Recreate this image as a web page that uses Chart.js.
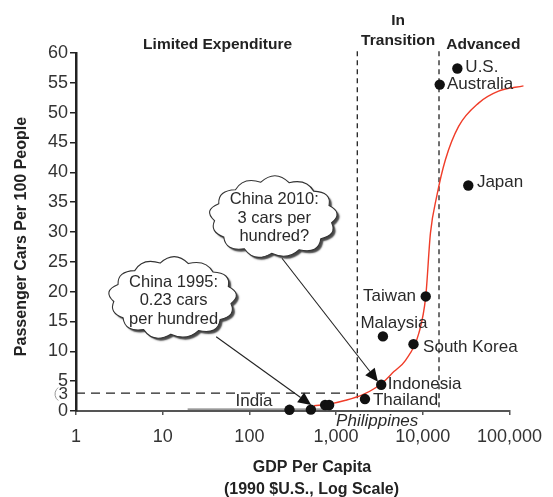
<!DOCTYPE html>
<html>
<head>
<meta charset="utf-8">
<script src="https://cdn.jsdelivr.net/npm/chart.js@4/dist/chart.umd.min.js"></script>
<style>
  html, body { margin: 0; padding: 0; background: #fff; }
  #wrap { width: 553px; height: 497px; position: relative; }
</style>
</head>
<body>
<div id="wrap"><canvas id="c" width="553" height="497"></canvas></div>
<script>
// ---- DATA ----
const countries   = ['India', 'China 1995', '', 'Philippines', 'Thailand', 'Indonesia', 'Malaysia', 'South Korea', 'Taiwan', 'Australia', 'U.S.', 'Japan'];
const gdpPerCapita = [290, 512, 748, 831, 2154, 3317, 3470, 7816, 10820, 15680, 25060, 33500];
const carsPer100   = [0.2, 0.23, 1.0, 1.0, 2.0, 4.4, 12.5, 11.2, 19.2, 54.7, 57.4, 37.8];

const curveGdp  = [558, 831, 1292, 2005, 2860, 3726, 4645, 6325, 8995, 10820, 12260, 14500, 18240, 25900, 44000, 74800, 145000];
const curveCars = [0.87, 1.16, 1.8, 2.7, 3.9, 5.2, 6.6, 8.5, 13, 19.2, 29.8, 36, 42.1, 47.7, 51.6, 53.6, 54.5];

const xTickValues = [1, 10, 100, 1000, 10000, 100000];
const xTickLabels = ['1', '10', '100', '1,000', '10,000', '100,000'];
const yTickValues = [0, 5, 10, 15, 20, 25, 30, 35, 40, 45, 50, 55, 60];

const zoneBoundaries = [1757, 15390];     // GDP per capita
const chinaTarget = 3;                   // cars per hundred (dashed line)
const zoneTitles = [
  { lines: ['Limited Expenditure'], gdp: 43 },
  { lines: ['In', 'Transition'], gdp: 5200 },
  { lines: ['Advanced'], gdp: 50000 }
];
const callouts = [
  { lines: ['China 1995:', '0.23 cars', 'per hundred'], gdp: 13.0, cars: 18.9, fromGdp: 41.4, fromCars: 12.45, toGdp: 516, toCars: 1.0, textDy: 2.5 },
  { lines: ['China 2010:', '3 cars per', 'hundred?'], gdp: 188.7, cars: 32.45, fromGdp: 237.6, fromCars: 25.6, toGdp: 3040, toCars: 4.9, textDy: 1 }
];
const indiaLeader = { fromGdp: 19.4, toGdp: 800, cars: 0.3 };

// ---- STYLE (label offsets in px) ----
const labelStyle = {
  'India':       { dx: -17, dy: -8, align: 'right' },
  'Philippines': { dx: 7, dy: 16.5, align: 'left', italic: true },
  'Thailand':    { dx: 8, dy: 1, align: 'left' },
  'Indonesia':   { dx: 6.5, dy: 0, align: 'left' },
  'Malaysia':    { dx: 11, dy: -13.6, align: 'center' },
  'South Korea': { dx: 9.6, dy: 3.4, align: 'left' },
  'Taiwan':      { dx: -9.7, dy: -0.6, align: 'right' },
  'Australia':   { dx: 7.3, dy: 0, align: 'left' },
  'U.S.':        { dx: 8, dy: -1, align: 'left' },
  'Japan':       { dx: 8.6, dy: -3, align: 'left' }
};

const FONT = '"Liberation Sans", Arial, sans-serif';

function cloudPath(ctx, cx, cy, rx, ry, n, b) {
  ctx.beginPath();
  const pts = [];
  for (let i = 0; i <= n; i++) {
    const a = i / n * Math.PI * 2 + 0.15;
    pts.push([cx + rx * Math.cos(a), cy + ry * Math.sin(a), a]);
  }
  ctx.moveTo(pts[0][0], pts[0][1]);
  for (let i = 0; i < n; i++) {
    const am = (pts[i][2] + pts[i + 1][2]) / 2;
    const bb = b * (1 + 0.2 * Math.sin(i * 2.3));
    const kx = cx + (rx + 2 * bb) * Math.cos(am);
    const ky = cy + (ry + 2 * bb) * Math.sin(am);
    ctx.quadraticCurveTo(kx, ky, pts[i + 1][0], pts[i + 1][1]);
  }
  ctx.closePath();
}

function arrow(ctx, x1, y1, x2, y2) {
  ctx.beginPath();
  ctx.moveTo(x1, y1);
  const ang = Math.atan2(y2 - y1, x2 - x1);
  const L = 13, W = 6;
  const bx = x2 - L * Math.cos(ang), by = y2 - L * Math.sin(ang);
  ctx.lineTo(bx, by);
  ctx.strokeStyle = '#222';
  ctx.lineWidth = 1.1;
  ctx.stroke();
  ctx.beginPath();
  ctx.moveTo(x2, y2);
  ctx.lineTo(bx + W * Math.sin(ang), by - W * Math.cos(ang));
  ctx.lineTo(bx - W * Math.sin(ang), by + W * Math.cos(ang));
  ctx.closePath();
  ctx.fillStyle = '#111';
  ctx.fill();
}

const decor = {
  id: 'decor',
  beforeDatasetsDraw(chart) {
    const { ctx, scales: { x, y } } = chart;
    ctx.save();
    ctx.strokeStyle = '#222';
    ctx.lineWidth = 1.3;
    ctx.setLineDash([5, 4]);
    zoneBoundaries.forEach(g => {
      const px = x.getPixelForValue(g);
      ctx.beginPath();
      ctx.moveTo(px, y.getPixelForValue(60.3));
      ctx.lineTo(px, y.getPixelForValue(0));
      ctx.stroke();
    });
    ctx.setLineDash([9, 6]);
    ctx.beginPath();
    ctx.moveTo(x.getPixelForValue(1), y.getPixelForValue(chinaTarget));
    ctx.lineTo(x.getPixelForValue(zoneBoundaries[0]), y.getPixelForValue(chinaTarget));
    ctx.stroke();
    ctx.setLineDash([]);
    // India leader line
    ctx.strokeStyle = '#777';
    ctx.lineWidth = 1.3;
    ctx.beginPath();
    ctx.moveTo(x.getPixelForValue(indiaLeader.fromGdp), y.getPixelForValue(indiaLeader.cars));
    ctx.lineTo(x.getPixelForValue(indiaLeader.toGdp), y.getPixelForValue(indiaLeader.cars));
    ctx.stroke();
    // "3" label on y axis
    ctx.fillStyle = '#333';
    ctx.font = '17px ' + FONT;
    ctx.textAlign = 'right';
    ctx.textBaseline = 'middle';
    ctx.fillText('3', 68, y.getPixelForValue(chinaTarget) + 1);
    ctx.strokeStyle = '#999';
    ctx.lineWidth = 1;
    ctx.beginPath();
    ctx.arc(63, y.getPixelForValue(chinaTarget) + 1, 8, Math.PI * 0.7, Math.PI * 1.3);
    ctx.stroke();
    ctx.restore();
  },
  afterDatasetsDraw(chart) {
    const { ctx, scales: { x, y } } = chart;
    ctx.save();
    // point labels
    const meta = chart.getDatasetMeta(1);
    meta.data.forEach((pt, i) => {
      const name = countries[i];
      const st = labelStyle[name];
      if (!st) return;
      ctx.font = (st.italic ? 'italic ' : '') + '17px ' + FONT;
      ctx.fillStyle = '#2a2a2a';
      ctx.textAlign = st.align;
      ctx.textBaseline = 'middle';
      ctx.fillText(name, pt.x + st.dx, pt.y + st.dy);
    });
    // callouts
    callouts.forEach(c => {
      const fx = x.getPixelForValue(c.fromGdp), fy = y.getPixelForValue(c.fromCars);
      const tx = x.getPixelForValue(c.toGdp), ty = y.getPixelForValue(c.toCars);
      arrow(ctx, fx, fy, tx, ty);
      const cx = x.getPixelForValue(c.gdp), cy = y.getPixelForValue(c.cars);
      ctx.save();
      ctx.shadowColor = 'rgba(40,40,40,0.85)';
      ctx.shadowOffsetX = 2.5;
      ctx.shadowOffsetY = 2.5;
      ctx.shadowBlur = 1.5;
      cloudPath(ctx, cx, cy, 59, 36, 13, 5.2);
      ctx.fillStyle = '#fff';
      ctx.fill();
      ctx.restore();
      cloudPath(ctx, cx, cy, 59, 36, 13, 5.2);
      ctx.strokeStyle = '#333';
      ctx.lineWidth = 1.1;
      ctx.stroke();
      ctx.fillStyle = '#2a2a2a';
      ctx.font = '16.5px ' + FONT;
      ctx.textAlign = 'center';
      ctx.textBaseline = 'middle';
      c.lines.forEach((ln, k) => ctx.fillText(ln, cx + 1, cy + c.textDy - 18.5 + k * 18.5));
    });
    // zone titles
    ctx.fillStyle = '#222';
    ctx.font = 'bold 15.5px ' + FONT;
    ctx.textAlign = 'center';
    ctx.textBaseline = 'middle';
    zoneTitles.forEach(z => {
      const px = x.getPixelForValue(z.gdp);
      const ys = z.lines.length === 1 ? [44.3] : [20.7, 40.7];
      z.lines.forEach((ln, k) => ctx.fillText(ln, px, ys[k]));
    });
    // axis titles
    ctx.font = 'bold 16px ' + FONT;
    ctx.fillText('GDP Per Capita', 312, 468);
    ctx.fillText('(1990 $U.S., Log Scale)', 311.5, 490);
    ctx.save();
    ctx.translate(22, 236.5);
    ctx.rotate(-Math.PI / 2);
    ctx.fillText('Passenger Cars Per 100 People', 0, 0);
    ctx.restore();
    ctx.restore();
  }
};

new Chart(document.getElementById('c'), {
  type: 'scatter',
  data: {
    datasets: [
      {
        label: 'trend',
        data: curveGdp.map((g, i) => ({ x: g, y: curveCars[i] })),
        showLine: true,
        borderColor: '#f03c28',
        borderWidth: 1.4,
        pointRadius: 0,
        cubicInterpolationMode: 'monotone',
        clip: false,
        order: 2
      },
      {
        label: 'countries',
        data: gdpPerCapita.map((g, i) => ({ x: g, y: carsPer100[i] })),
        backgroundColor: '#111',
        borderColor: '#111',
        pointRadius: 5.2,
        pointBorderWidth: 0,
        clip: false,
        order: 1
      }
    ]
  },
  options: {
    responsive: false,
    animation: false,
    devicePixelRatio: 1,
    layout: { padding: { top: 53, right: 42, left: 0, bottom: 0 } },
    plugins: { legend: { display: false }, tooltip: { enabled: false }, title: { display: false } },
    scales: {
      x: {
        type: 'logarithmic',
        min: 1, max: 100000,
        afterBuildTicks: s => { s.ticks = xTickValues.map(v => ({ value: v })); },
        afterFit: s => { s.height = 86; },
        ticks: {
          autoSkip: false, maxRotation: 0,
          callback: (v) => xTickLabels[xTickValues.indexOf(v)],
          font: { size: 18, family: FONT }, color: '#333', padding: 11
        },
        grid: { drawOnChartArea: false, drawTicks: true, tickLength: 4, color: '#555', lineWidth: 1.5 },
        border: { display: true, color: '#555', width: 2 }
      },
      y: {
        min: 0, max: 60,
        afterBuildTicks: s => { s.ticks = yTickValues.map(v => ({ value: v })); },
        afterFit: s => { s.width = 76; },
        ticks: { font: { size: 18, family: FONT }, color: '#333', padding: 2 },
        grid: { drawOnChartArea: false, drawTicks: true, tickLength: 6, color: '#222', lineWidth: 1.5 },
        border: { display: true, color: '#222', width: 2.5 }
      }
    }
  },
  plugins: [decor]
});
</script>
</body>
</html>
